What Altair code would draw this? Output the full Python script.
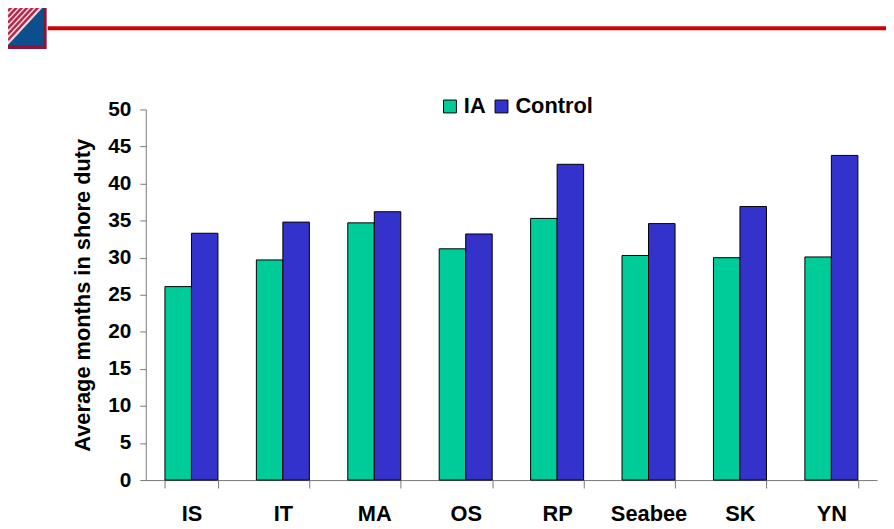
import altair as alt
import pandas as pd

# ---- data ----
categories = ["IS", "IT", "MA", "OS", "RP", "Seabee", "SK", "YN"]
ia_values = [26.1, 29.7, 34.7, 31.2, 35.3, 30.3, 30.0, 30.1]
control_values = [33.3, 34.8, 36.2, 33.2, 42.6, 34.6, 36.9, 43.8]
series = ["IA", "Control"]
series_colors = ["#00CC99", "#3333CC"]
y_ticks = list(range(0, 51, 5))
y_title = "Average months in shore duty"

rows = []
for c, a, b in zip(categories, ia_values, control_values):
    rows.append({"cat": c, "group": "IA", "value": a})
    rows.append({"cat": c, "group": "Control", "value": b})
df = pd.DataFrame(rows)

FONT = "Liberation Sans"
AXIS_GRAY = "#777777"

bars = alt.Chart(df).mark_bar(stroke="black", strokeWidth=1).encode(
    x=alt.X(
        "cat:N",
        sort=categories,
        scale=alt.Scale(paddingInner=0.42, paddingOuter=0.21),
        axis=alt.Axis(
            title=None, labelAngle=0, labelFont=FONT, labelFontSize=22,
            labelFontWeight="bold", labelColor="black", labelPadding=16,
            tickBand="extent", tickSize=8, tickColor=AXIS_GRAY,
            domainColor=AXIS_GRAY, grid=False,
        ),
    ),
    xOffset=alt.XOffset("group:N", sort=series,
                        scale=alt.Scale(paddingInner=0, paddingOuter=0)),
    y=alt.Y(
        "value:Q",
        scale=alt.Scale(domain=[0, 50], nice=False),
        axis=alt.Axis(
            values=y_ticks, title=y_title, grid=False,
            labelFont=FONT, labelFontSize=21, labelFontWeight="bold",
            labelColor="black", labelPadding=9, tickSize=6,
            tickColor=AXIS_GRAY, domainColor=AXIS_GRAY,
            titleFont=FONT, titleFontSize=22, titleFontWeight="bold",
            titleColor="black", titlePadding=13,
        ),
    ),
    color=alt.Color(
        "group:N", sort=series,
        scale=alt.Scale(domain=series, range=series_colors),
        legend=alt.Legend(
            title=None, orient="none", legendX=296, legendY=-14,
            direction="horizontal", symbolType="square", symbolSize=169,
            symbolStrokeColor="black", symbolStrokeWidth=1,
            labelFont=FONT, labelFontSize=22, labelFontWeight="bold",
            labelColor="black", labelOffset=3, columnPadding=5, padding=0,
        ),
    ),
)

# ---- slide header decoration (logo + red rule) ----
one = alt.Data(values=[{}])


def rect(x1, x2, y1, y2, color):
    return alt.Chart(one).mark_rect(color=color).encode(
        x=alt.value(x1), x2=alt.value(x2), y=alt.value(y1), y2=alt.value(y2))


def tri(path, color):
    return alt.Chart(one).mark_point(
        shape=path, filled=True, size=1296, color=color, opacity=1,
        strokeWidth=0).encode(x=alt.value(-121), y=alt.value(-84.5))


decor = [
    rect(-139, -100, -104, -61, "#8a1538"),
    tri("M1,-1.083L1,1.083L-1,1.083Z", "#0b4f8c"),
    tri("M-1,-1.083L1,-1.083L-1,1.083Z", "#f3dce2"),
]
for t in [0.12, 0.27, 0.42, 0.57, 0.72, 0.87]:
    decor.append(
        alt.Chart(one).mark_rule(color="#b5284a", strokeWidth=2.5).encode(
            x=alt.value(-139), x2=alt.value(-139 + 36 * t),
            y=alt.value(-104 + 39 * t), y2=alt.value(-104)))
decor.append(
    alt.Chart(one).mark_rule(color="#d00000", strokeWidth=4).encode(
        x=alt.value(-99), x2=alt.value(747), y=alt.value(-82)))

chart = alt.layer(*decor, bars).properties(
    width=738, height=374,
    padding={"left": 139, "top": 100, "right": 9, "bottom": 47},
    autosize=alt.AutoSizeParams(type="none"),
).configure_view(stroke=None)

chart.save("out.html", embed_options={"renderer": "svg", "actions": False})
